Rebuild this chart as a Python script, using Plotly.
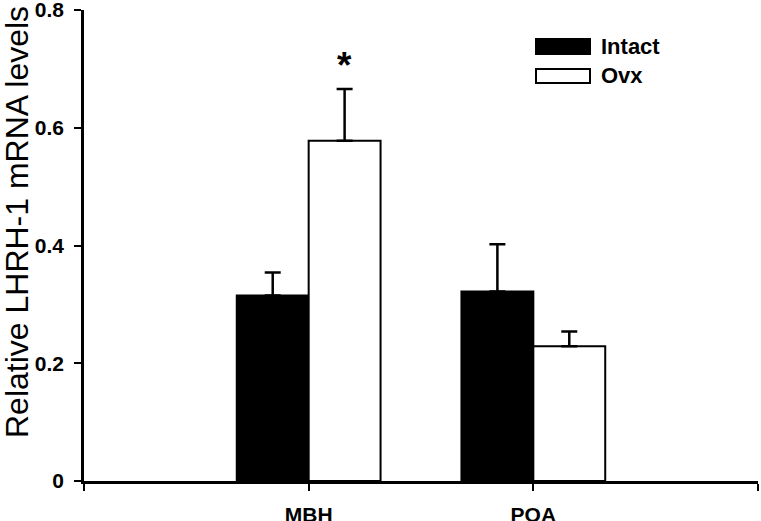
import plotly.graph_objects as go

# Data
categories = ["MBH", "POA"]
cat_pos = [1, 2]
intact_vals = [0.315, 0.322]
intact_err = [0.039, 0.080]
ovx_vals = [0.578, 0.229]
ovx_err = [0.088, 0.025]
y_ticks = [0, 0.2, 0.4, 0.6, 0.8]
y_ticklabels = ["0", "0.2", "0.4", "0.6", "0.8"]
x_ticks = [0, 1, 2, 3]
x_ticklabels = ["", "MBH", "POA", ""]

W, H = 761, 521
ML, MR, MT, MB = 84, 3, 10, 40
PW, PH = W - ML - MR, H - MT - MB

def px(x):
    return (x - ML) / PW

def py(y):
    return (H - MB - y) / PH

FONT = "Liberation Sans, Arial, sans-serif"
BW = 0.32

fig = go.Figure()
fig.add_trace(go.Bar(
    x=cat_pos, y=intact_vals, name="Intact", width=BW, offset=-BW,
    marker=dict(color="black", line=dict(color="black", width=2)),
    error_y=dict(type="data", symmetric=False, array=intact_err,
                 arrayminus=[0] * len(intact_err), color="black",
                 thickness=2.5, width=8),
    showlegend=False,
))
fig.add_trace(go.Bar(
    x=cat_pos, y=ovx_vals, name="Ovx", width=BW, offset=0,
    marker=dict(color="white", line=dict(color="black", width=2)),
    error_y=dict(type="data", symmetric=False, array=ovx_err,
                 arrayminus=[0] * len(ovx_err), color="black",
                 thickness=2.5, width=8),
    showlegend=False,
))

# significance asterisk above MBH Ovx
fig.add_annotation(x=cat_pos[0] + BW / 2, y=ovx_vals[0] + ovx_err[0],
                   text="<b>*</b>", showarrow=False, yanchor="bottom",
                   yshift=1, font=dict(family=FONT, size=37, color="black"))

# Axis title
fig.add_annotation(x=0, xref="paper", xanchor="left", xshift=-ML - 3,
                   y=py(222), yref="paper", yanchor="middle",
                   text="Relative LHRH-1 mRNA levels", textangle=-90,
                   showarrow=False,
                   font=dict(family=FONT, size=32, color="black"))

# Legend (drawn manually to match wide swatches)
legend_items = [("Intact", "black", 39, 54), ("Ovx", "white", 69, 83)]
for label, fill, y0, y1 in legend_items:
    fig.add_shape(type="rect", xref="paper", yref="paper",
                  x0=px(536), x1=px(590), y0=py(y1), y1=py(y0),
                  fillcolor=fill, line=dict(color="black", width=2))
    fig.add_annotation(x=px(599), y=py((y0 + y1) / 2), xref="paper", yref="paper",
                       xanchor="left", yanchor="middle", showarrow=False,
                       text="<b>%s</b>" % label,
                       font=dict(family=FONT, size=22, color="black"))

axis_common = dict(showline=True, linecolor="black", linewidth=2.5,
                   ticks="outside", ticklen=7, tickwidth=1.5, tickcolor="black",
                   showgrid=False, zeroline=False, automargin=False,
                   ticklabeloverflow="allow",
                   tickfont=dict(family=FONT, size=21, color="black"))

fig.update_layout(
    width=W, height=H,
    margin=dict(l=ML, r=MR, t=MT, b=MB, autoexpand=False),
    plot_bgcolor="white", paper_bgcolor="white",
    barmode="overlay",
    font=dict(family=FONT, size=20, color="black"),
    xaxis=dict(range=[0, 3], tickmode="array", tickvals=x_ticks,
               ticktext=["<b>%s</b>" % t if t else "" for t in x_ticklabels],
               ticklabelstandoff=6, **axis_common),
    yaxis=dict(range=[0, 0.8], tickmode="array", tickvals=y_ticks,
               ticktext=["<b>%s</b>" % t for t in y_ticklabels],
               ticklabelstandoff=6, **axis_common),
)

fig.write_html("out.html", config={"displayModeBar": False},
               post_script="document.body.style.margin='0';document.body.style.padding='0';")
